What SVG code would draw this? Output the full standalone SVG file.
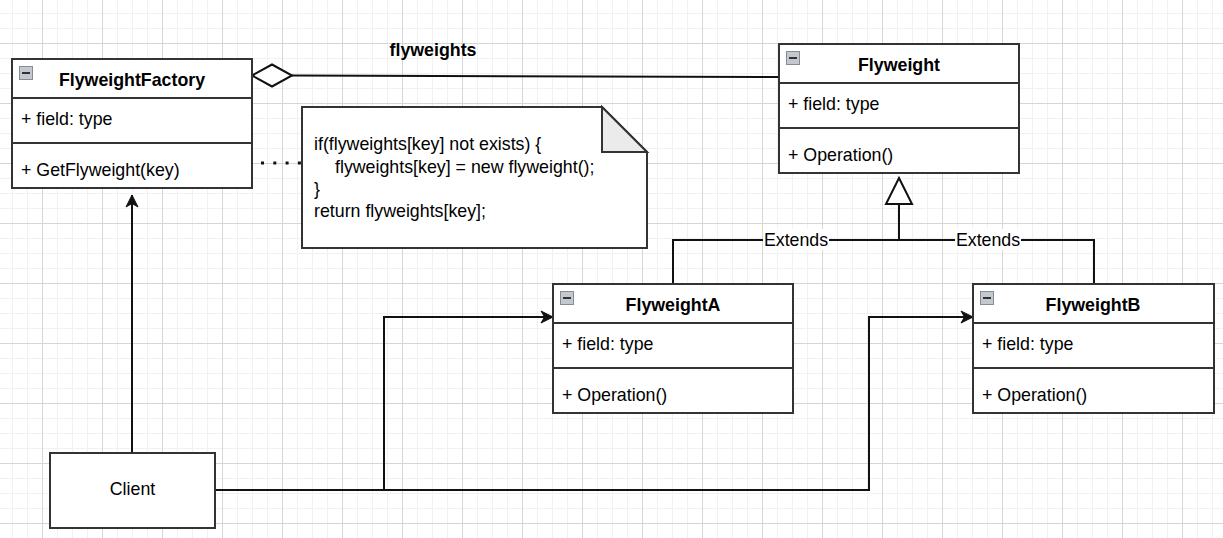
<svg xmlns="http://www.w3.org/2000/svg" width="1223" height="538" viewBox="0 0 1223 538">
<style>
  text { font-family: "Liberation Sans", Arial, sans-serif; font-size: 17.8px; fill: #000; }
  .name { font-weight: bold; text-anchor: middle; }
  .box { fill: #fff; stroke: #333; stroke-width: 2; }
  .div { stroke: #333; stroke-width: 2; }
  .edge { fill: none; stroke: #111; stroke-width: 2; }
  .ico { fill: #c4c9cf; stroke: #858c95; stroke-width: 1; }
  .icol { stroke: #333; stroke-width: 2; }
  .lbl { text-anchor: middle; }
</style>
<defs>
  <pattern id="grid" x="42" y="43" width="60" height="60" patternUnits="userSpaceOnUse">
    <path d="M15.5,0 V60 M30.5,0 V60 M45.5,0 V60 M0,15.5 H60 M0,30.5 H60 M0,45.5 H60" stroke="#f1f1f1" stroke-width="1" fill="none"/>
    <path d="M0.5,0 V60 M0,0.5 H60" stroke="#d6d6d6" stroke-width="1" fill="none"/>
  </pattern>
  <marker id="arrow" markerUnits="userSpaceOnUse" markerWidth="14" markerHeight="14" viewBox="-13 -7 14 14" refX="0" refY="0" orient="auto">
    <path d="M0,0 L-12,-6 L-8.5,0 L-12,6 Z" fill="#111" stroke="#111" stroke-width="1"/>
  </marker>
  <g id="icon">
    <rect class="ico" x="0.5" y="0.5" width="13" height="13"/>
    <line class="icol" x1="3" y1="7" x2="11" y2="7"/>
  </g>
</defs>
<rect width="1223" height="538" fill="#fff"/>
<rect width="1223" height="538" fill="url(#grid)"/>

<g id="connectors">
  <path class="edge" d="M292,75.5 L779,77"/>
  <path d="M252,75.5 L272,64.5 L292,75.5 L272,86.5 Z" fill="#fff" stroke="#111" stroke-width="2"/>
  <text x="433" y="56" class="name">flyweights</text>
  <line x1="261" y1="163" x2="302" y2="163" stroke="#111" stroke-width="3" stroke-dasharray="3 9.3"/>
  <path class="edge" d="M673,284 V240 H1094 V284"/>
  <path class="edge" d="M899,240 V204"/>
  <path d="M899,178 L912,204 L886,204 Z" fill="#fff" stroke="#111" stroke-width="2"/>
  <rect x="763" y="229" width="66" height="21" fill="#fff"/>
  <text x="796" y="246" class="lbl">Extends</text>
  <rect x="955" y="229" width="66" height="21" fill="#fff"/>
  <text x="988" y="246" class="lbl">Extends</text>
  <path class="edge" d="M132,453 V195" marker-end="url(#arrow)"/>
  <path class="edge" d="M215,490 H384 V317 H553" marker-end="url(#arrow)"/>
  <path class="edge" d="M384,490 H869 V317 H973" marker-end="url(#arrow)"/>
</g>

<g id="FlyweightFactory">
  <rect class="box" x="12" y="59" width="240" height="129"/>
  <line class="div" x1="12" y1="98" x2="252" y2="98"/>
  <line class="div" x1="12" y1="143" x2="252" y2="143"/>
  <use href="#icon" x="19" y="66"/>
  <text x="132" y="86" class="name">FlyweightFactory</text>
  <text x="21" y="125">+ field: type</text>
  <text x="21" y="176">+ GetFlyweight(key)</text>
</g>

<g id="Note">
  <path d="M302,107 H602 L647,152 V248 H302 Z" fill="#fff" stroke="#333" stroke-width="2"/>
  <path d="M602,107 V152 H647 Z" fill="#ebebeb" stroke="#333" stroke-width="2"/>
  <text x="314" y="150">if(flyweights[key] not exists) {</text>
  <text x="335" y="173">flyweights[key] = new flyweight();</text>
  <text x="314" y="195">}</text>
  <text x="314" y="217">return flyweights[key];</text>
</g>

<g id="Flyweight">
  <rect class="box" x="779" y="44" width="240" height="129"/>
  <line class="div" x1="779" y1="83" x2="1019" y2="83"/>
  <line class="div" x1="779" y1="128" x2="1019" y2="128"/>
  <use href="#icon" x="786" y="51"/>
  <text x="899" y="71" class="name">Flyweight</text>
  <text x="788" y="110">+ field: type</text>
  <text x="788" y="161">+ Operation()</text>
</g>

<g id="FlyweightA">
  <rect class="box" x="553" y="284" width="240" height="129"/>
  <line class="div" x1="553" y1="323" x2="793" y2="323"/>
  <line class="div" x1="553" y1="368" x2="793" y2="368"/>
  <use href="#icon" x="560" y="291"/>
  <text x="673" y="311" class="name">FlyweightA</text>
  <text x="562" y="350">+ field: type</text>
  <text x="562" y="401">+ Operation()</text>
</g>

<g id="FlyweightB">
  <rect class="box" x="973" y="284" width="241" height="129"/>
  <line class="div" x1="973" y1="323" x2="1214" y2="323"/>
  <line class="div" x1="973" y1="368" x2="1214" y2="368"/>
  <use href="#icon" x="980" y="291"/>
  <text x="1093" y="311" class="name">FlyweightB</text>
  <text x="982" y="350">+ field: type</text>
  <text x="982" y="401">+ Operation()</text>
</g>

<g id="Client">
  <rect class="box" x="50" y="453" width="165" height="75"/>
  <text x="132.5" y="495" class="lbl">Client</text>
</g>
</svg>
